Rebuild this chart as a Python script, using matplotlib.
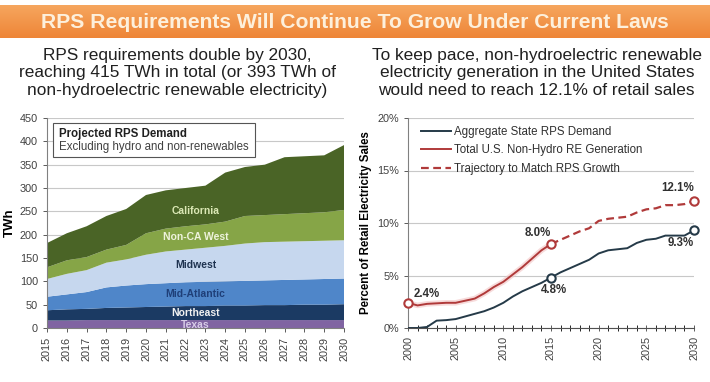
import matplotlib
import matplotlib.pyplot as plt
import numpy as np
from matplotlib.patches import Rectangle

matplotlib.use("Agg")
plt.rcParams["font.family"] = ["Liberation Sans", "DejaVu Sans"]

# left chart: projected RPS demand by region (TWh)
years = [2015, 2016, 2017, 2018, 2019, 2020, 2021, 2022,
         2023, 2024, 2025, 2026, 2027, 2028, 2029, 2030]
texas = [16, 16, 17, 17, 17, 17, 17, 17, 17, 17, 17, 17, 17, 17, 17, 17]
northeast = [22, 24, 24, 26, 27, 28, 29, 30, 30, 31, 31, 32, 32, 33, 33, 34]
mid_atlantic = [29, 32, 36, 44, 47, 49, 50, 51, 52, 52, 53, 53, 54, 54, 55, 55]
midwest = [38, 44, 47, 53, 56, 63, 68, 70, 73, 76, 80, 82, 82, 82, 82, 82]
non_ca_west = [25, 29, 28, 28, 31, 46, 49, 50, 50, 52, 59, 58, 59, 60, 61, 65]
california = [52, 58, 66, 72, 77, 82, 82, 82, 83, 105, 105, 108, 122, 122, 122, 139]
regions = ["Texas", "Northeast", "Mid-Atlantic", "Midwest", "Non-CA West", "California"]

# right chart: percent of retail electricity sales
hist_years = list(range(2000, 2016))
re_generation = [2.4, 2.15, 2.3, 2.35, 2.4, 2.4, 2.6, 2.8,
                 3.3, 3.9, 4.4, 5.1, 5.8, 6.6, 7.4, 8.0]
traj_years = list(range(2015, 2031))
trajectory = [8.0, 8.4, 8.8, 9.2, 9.5, 10.2, 10.4, 10.5,
              10.6, 11.0, 11.3, 11.4, 11.7, 11.7, 11.8, 12.1]
all_years = list(range(2000, 2031))
rps_demand = [0.0, 0.0, 0.1, 0.7, 0.75, 0.85, 1.1, 1.35, 1.6, 1.95, 2.4,
              3.0, 3.5, 3.9, 4.3, 4.8, 5.3, 5.7, 6.1, 6.5, 7.1, 7.4,
              7.5, 7.6, 8.1, 8.4, 8.5, 8.8, 8.8, 8.8, 9.3]

TITLE = "RPS Requirements Will Continue To Grow Under Current Laws"
LEFT_SUB = ("RPS requirements double by 2030,\n"
            "reaching 415 TWh in total (or 393 TWh of\n"
            "non-hydroelectric renewable electricity)")
RIGHT_SUB = ("To keep pace, non-hydroelectric renewable\n"
             "electricity generation in the United States\n"
             "would need to reach 12.1% of retail sales")

area_colors = ["#8064a2", "#1b3a63", "#4f86c9", "#c6d7ee", "#86a547", "#4a6426"]
label_colors = ["#d9cde8", "#f2f2f2", "#1f3f78", "#1f3350", "#eef3dc", "#dbe8b5"]
label_y = [7, 32, 72, 135, 195, 250]

DARK = "#253a48"
RED = "#b03a3a"
GRID = "#c8c8c8"
TICK = "#404040"

fig = plt.figure(figsize=(7.1, 3.82), dpi=100)

# orange banner
banner = fig.add_axes([0.0, 1 - 38 / 382, 1.0, 33 / 382])
grad = np.linspace(0, 1, 50).reshape(-1, 1)
cmap = matplotlib.colors.LinearSegmentedColormap.from_list("b", ["#f6a65e", "#ee8537"])
banner.imshow(grad, aspect="auto", cmap=cmap, extent=[0, 1, 0, 1])
banner.set_axis_off()
banner.text(0.5, 0.48, TITLE, ha="center", va="center", color="#fdf0dc",
            fontsize=15.2, fontweight="bold", transform=banner.transAxes)

fig.text(0.25, 1 - 73 / 382, LEFT_SUB, ha="center", va="center", fontsize=12.4,
         color="#202020", linespacing=1.22)
fig.text(0.756, 1 - 73 / 382, RIGHT_SUB, ha="center", va="center", fontsize=12.4,
         color="#202020", linespacing=1.22)

# left stacked area
ax1 = fig.add_axes([47 / 710, 1 - 328 / 382, 297 / 710, 210 / 382])
series = [texas, northeast, mid_atlantic, midwest, non_ca_west, california]
ax1.stackplot(years, *series, colors=area_colors, linewidth=0, zorder=2)
ax1.set_xlim(2015, 2030)
ax1.set_ylim(0, 450)
ax1.set_yticks(range(0, 451, 50))
ax1.set_xticks(years)
ax1.set_xticklabels([str(y) for y in years], rotation=90)
ax1.yaxis.grid(True, color=GRID, linewidth=0.8, zorder=0)
ax1.set_axisbelow(True)
for s in ["top", "right"]:
    ax1.spines[s].set_visible(False)
ax1.spines["left"].set_color("#808080")
ax1.spines["bottom"].set_color("#808080")
ax1.tick_params(labelsize=7.8, colors=TICK, length=3, width=0.6)
ax1.set_ylabel("TWh", fontsize=9.5, fontweight="bold", labelpad=3)
for name, yv, c in zip(regions, label_y, label_colors):
    ax1.text(2022.5, yv, name, ha="center", va="center", fontsize=7.5,
             fontweight="bold", color=c, zorder=3)
ax1.text(2015.6, 416, "Projected RPS Demand", fontsize=8.3, fontweight="bold",
         color="#202020", va="center", zorder=4)
ax1.text(2015.6, 388, "Excluding hydro and non-renewables", fontsize=8.3,
         color="#404040", va="center", zorder=4)
ax1.add_patch(Rectangle((2015.3, 366), 10.2, 73, facecolor="white",
                        edgecolor="#555555", linewidth=0.8, zorder=3))

# right line chart
ax2 = fig.add_axes([408 / 710, 1 - 328 / 382, 286 / 710, 210 / 382])
ax2.plot(hist_years, re_generation, color="#f2c4c4", linewidth=4, alpha=0.6,
         solid_capstyle="round", zorder=2)
ax2.plot(all_years, rps_demand, color=DARK, linewidth=1.4, zorder=3,
         label="Aggregate State RPS Demand")
ax2.plot(hist_years, re_generation, color=RED, linewidth=1.4, zorder=3,
         label="Total U.S. Non-Hydro RE Generation")
ax2.plot(traj_years, trajectory, color=RED, linewidth=1.6, linestyle=(0, (3.5, 2)),
         zorder=3, label="Trajectory to Match RPS Growth")
ax2.set_xlim(2000, 2030)
ax2.set_ylim(0, 20)
ax2.set_yticks(range(0, 21, 5))
ax2.set_yticklabels([f"{v}%" for v in range(0, 21, 5)])
ax2.set_xticks(range(2000, 2031, 5))
ax2.set_xticks(all_years, minor=True)
ax2.set_xticklabels([str(y) for y in range(2000, 2031, 5)], rotation=90)
ax2.yaxis.grid(True, color=GRID, linewidth=0.8, zorder=0)
ax2.set_axisbelow(True)
for s in ["top", "right"]:
    ax2.spines[s].set_visible(False)
ax2.spines["left"].set_color("#808080")
ax2.spines["bottom"].set_color("#505050")
ax2.tick_params(labelsize=7.8, colors=TICK, length=3, width=0.6)
ax2.tick_params(axis="x", which="both", direction="inout", length=4)
ax2.set_ylabel("Percent of Retail Electricity Sales", fontsize=8.3,
               fontweight="bold", labelpad=4)

marks = [(2000, re_generation[0], RED), (2015, re_generation[-1], RED),
         (2030, trajectory[-1], RED), (2015, rps_demand[15], DARK),
         (2030, rps_demand[-1], DARK)]
for x, y, c in marks:
    ax2.plot(x, y, "o", markersize=6, markerfacecolor="white",
             markeredgecolor=c, markeredgewidth=1.5, zorder=5, clip_on=False)

ann = [(2000.6, 3.2, "2.4%", "left"), (2015, 9.0, "8.0%", "right"),
       (2015.3, 3.6, "4.8%", "center"), (2030, 13.3, "12.1%", "right"),
       (2030, 8.1, "9.3%", "right")]
for x, y, t, ha in ann:
    ax2.text(x, y, t, ha=ha, va="center", fontsize=8.3, fontweight="bold",
             color="#303030")

leg = ax2.legend(loc="upper left", bbox_to_anchor=(0.02, 0.995), frameon=False,
                 fontsize=8.3, handlelength=2.6, handletextpad=0.3,
                 labelspacing=0.55, borderaxespad=0.2)
for t in leg.get_texts():
    t.set_color("#303030")

fig.savefig("out.png", dpi=100)
